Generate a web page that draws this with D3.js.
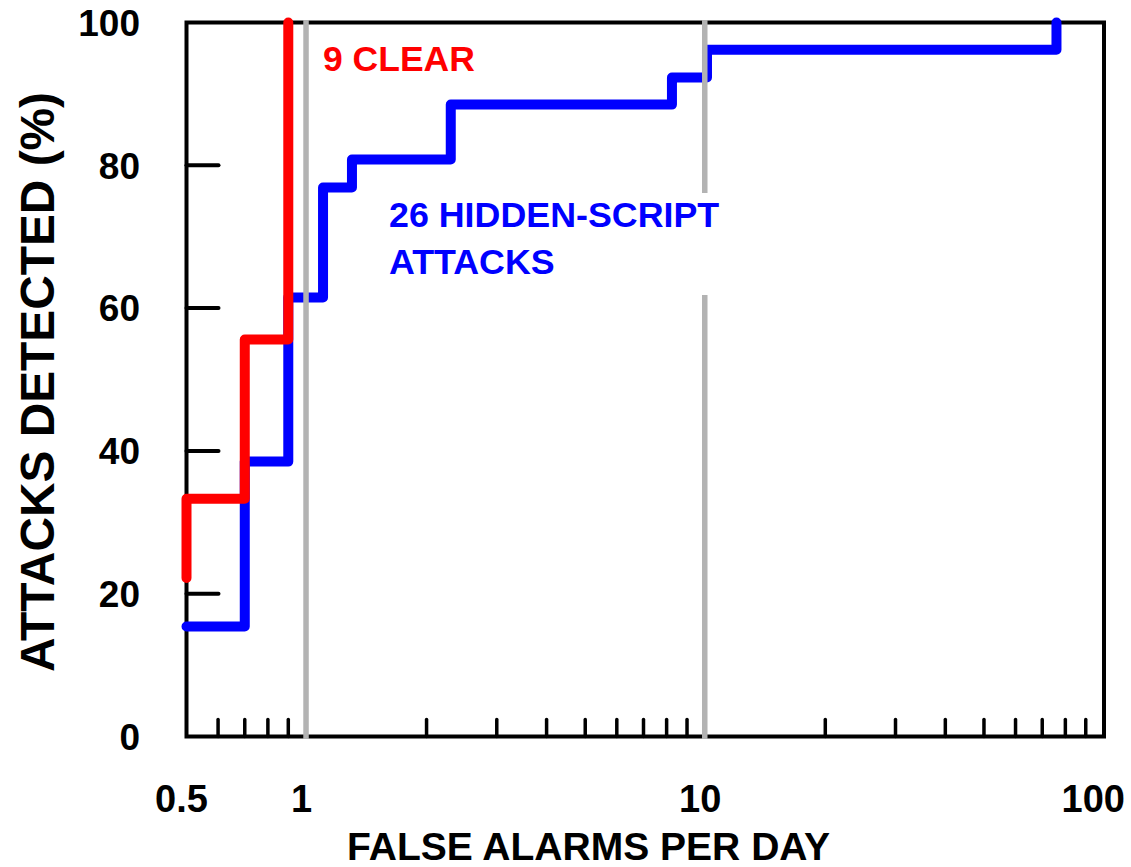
<!DOCTYPE html>
<html>
<head>
<meta charset="utf-8">
<script src="https://cdn.jsdelivr.net/npm/d3@7"></script>
<style>
  html, body { margin: 0; padding: 0; background: #fff; }
  svg { display: block; }
  text { font-family: "Liberation Sans", Arial, Helvetica, sans-serif; font-weight: bold; }
</style>
</head>
<body>
<svg id="chart" width="1131" height="867"></svg>
<script>
// ---- data ----
const clearAlarms   = [0.5, 0.5, 0.7, 0.9];
const clearDetected = [22.2, 33.3, 55.6, 100];
const hiddenAlarms   = [0.5, 0.7, 0.9, 1.1, 1.3, 2.3, 8.25, 10.1, 76];
const hiddenDetected = [15.4, 38.5, 61.5, 76.9, 80.8, 88.5, 92.3, 96.2, 100];
const xTickValues = [0.5, 1, 10, 100];
const xTickLabels = ["0.5", "1", "10", "100"];
const xMinorTicks = [0.6, 0.7, 0.8, 0.9, 2, 3, 4, 5, 6, 7, 8, 9, 20, 30, 40, 50, 60, 70, 80, 90];
const yTickValues = [0, 20, 40, 60, 80, 100];
const gridValues = [1, 10];
const labelClear = "9 CLEAR";
const labelHidden = ["26 HIDDEN-SCRIPT", "ATTACKS"];
const xTitle = "FALSE ALARMS PER DAY";
const yTitle = "ATTACKS DETECTED (%)";

// ---- layout ----
const L = 186.5, R = 1104, T = 22.5, B = 736.5;
const svg = d3.select("#chart");
const x = d3.scaleLog().domain([0.5, 100]).range([L, R]);
const y = d3.scaleLinear().domain([0, 100]).range([B, T]);

// frame
svg.append("rect").attr("x", L).attr("y", T).attr("width", R - L).attr("height", B - T)
  .attr("fill", "none").attr("stroke", "#000").attr("stroke-width", 4);

// y ticks (inside)
svg.append("g").selectAll("line").data(yTickValues.slice(1, 5)).join("line")
  .attr("x1", L).attr("x2", L + 32).attr("y1", d => y(d)).attr("y2", d => y(d))
  .attr("stroke", "#000").attr("stroke-width", 4).attr("stroke-linecap", "round");

// x minor ticks
svg.append("g").selectAll("line").data(xMinorTicks).join("line")
  .attr("x1", d => x(d)).attr("x2", d => x(d)).attr("y1", B).attr("y2", B - 17)
  .attr("stroke", "#000").attr("stroke-width", 3.5).attr("stroke-linecap", "round");

// data lines
const line = d3.line().x(d => x(d[0])).y(d => y(d[1])).curve(d3.curveStepAfter);
const clearPts = clearAlarms.map((a, i) => [a, clearDetected[i]]);
const hiddenPts = hiddenAlarms.map((a, i) => [a, hiddenDetected[i]]);

svg.append("path").datum(hiddenPts).attr("d", line)
  .attr("fill", "none").attr("stroke", "#0000ff").attr("stroke-width", 10)
  .attr("stroke-linejoin", "round").attr("stroke-linecap", "round");
svg.append("path").datum(clearPts).attr("d", line)
  .attr("fill", "none").attr("stroke", "#ff0000").attr("stroke-width", 10)
  .attr("stroke-linejoin", "round").attr("stroke-linecap", "round");

// gray grid lines at decades
svg.append("g").selectAll("line").data(gridValues).join("line")
  .attr("x1", d => x(d) - 0.5).attr("x2", d => x(d) - 0.5).attr("y1", 20).attr("y2", 739)
  .attr("stroke", "#b3b3b3").attr("stroke-width", 5.5);

// white background behind blue label
svg.append("rect").attr("x", 385).attr("y", 193).attr("width", 340).attr("height", 102).attr("fill", "#fff");

// labels
svg.append("text").attr("x", 323).attr("y", 71).attr("fill", "#ff0000")
  .attr("font-size", 35.5).text(labelClear);
svg.append("g").selectAll("text").data(labelHidden).join("text")
  .attr("x", 389).attr("y", (d, i) => 227 + i * 46.5).attr("fill", "#0000ff")
  .attr("font-size", 35.8).text(d => d);

// y tick labels
svg.append("g").selectAll("text").data(yTickValues).join("text")
  .attr("x", 140).attr("y", d => y(d)).attr("dy", "0.36em").attr("text-anchor", "end")
  .attr("font-size", 37).attr("fill", "#000").text(d => d);

// x tick labels
const xl = svg.append("g").selectAll("text").data(xTickValues).join("text")
  .attr("y", 812).attr("text-anchor", "middle")
  .attr("font-size", 38).attr("fill", "#000").text((d, i) => xTickLabels[i])
  .attr("x", d => x(d) - 5);
xl.each(function() {
  const t = d3.select(this);
  const w = this.getComputedTextLength();
  const cx = +t.attr("x");
  if (cx + w / 2 > 1125) t.attr("x", 1125 - w / 2);
});

// axis titles
svg.append("text").attr("x", 347).attr("y", 860).attr("font-size", 38.5)
  .attr("textLength", 483).attr("lengthAdjust", "spacingAndGlyphs").attr("fill", "#000").text(xTitle);
svg.append("text").attr("transform", "translate(53.5,382) rotate(-90)").attr("text-anchor", "middle")
  .attr("font-size", 48).attr("textLength", 580).attr("lengthAdjust", "spacingAndGlyphs")
  .attr("fill", "#000").text(yTitle);
</script>
</body>
</html>
